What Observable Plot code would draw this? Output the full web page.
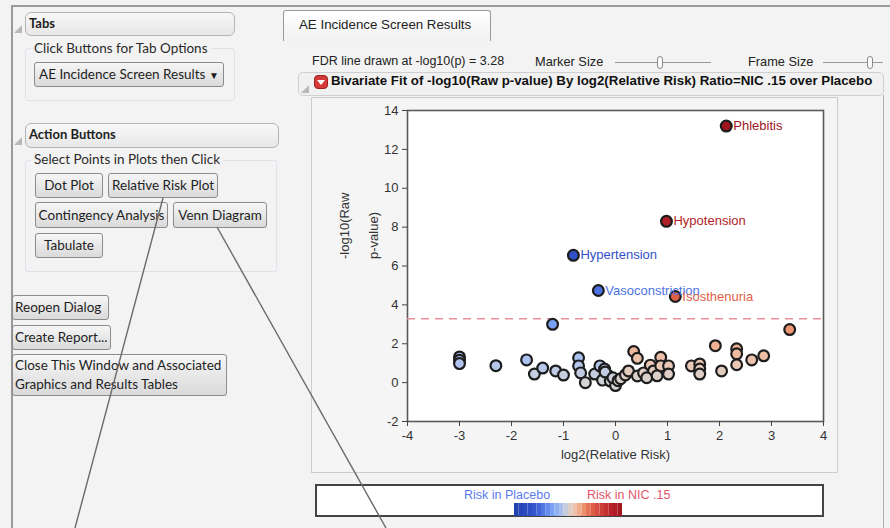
<!DOCTYPE html>
<html>
<head>
<meta charset="utf-8">
<script src="https://cdn.jsdelivr.net/npm/d3@7"></script>
<script src="https://cdn.jsdelivr.net/npm/@observablehq/plot@0.6"></script>
<style>
  html, body { margin: 0; padding: 0; }
  body { width: 890px; height: 528px; background: #f3f3f3; position: relative; overflow: hidden;
         font-family: "Lato", "Open Sans", sans-serif; color: #1e1e1e; }
  .abs { position: absolute; box-sizing: border-box; }
  .hdr { border: 1px solid #b5b5b5; border-radius: 6px; background: linear-gradient(#f8f8f8, #e7e7e7);
         font-weight: bold; font-size: 13px; padding-left: 3px; line-height: 20px; }
  .grp { border: 1px solid #dde3ea; border-radius: 3px; }
  .grpt { background: #f3f3f3; font-size: 13.5px; padding: 0 3px; line-height: 14px; color: #2a2a2a; }
  .btn { border: 1px solid #8c8c8c; border-radius: 3px; background: linear-gradient(#f6f6f6, #dadada);
         font-size: 13.5px; text-align: center; color: #1e1e1e; white-space: nowrap; }
  .tri { width: 0; height: 0; border-left: 8px solid transparent; border-bottom: 8px solid #b9b9b9; }
  .arial { font-family: "Liberation Sans", Arial, sans-serif; }
</style>
</head>
<body>
<!-- left panel frame -->
<div class="abs" style="left:11px;top:5px;width:879px;height:2px;background:#9a9a9a"></div>
<div class="abs" style="left:11px;top:5px;width:2px;height:523px;background:#9a9a9a"></div>
<div class="abs" style="left:883px;top:95px;width:1px;height:433px;background:#b0b0b0"></div>

<div class="abs tri" style="left:14px;top:25px"></div>
<div class="abs hdr" style="left:25px;top:12px;width:210px;height:24px">Tabs</div>
<div class="abs grp" style="left:25px;top:48px;width:210px;height:53px"></div>
<div class="abs grpt" style="left:31px;top:41px">Click Buttons for Tab Options</div>
<div class="abs btn" style="left:34px;top:62px;width:190px;height:25px;line-height:23px;text-align:left;padding-left:4px">AE Incidence Screen Results <span style="font-size:10px">&#9660;</span></div>

<div class="abs tri" style="left:14px;top:137px"></div>
<div class="abs hdr" style="left:25px;top:123px;width:254px;height:25px">Action Buttons</div>
<div class="abs grp" style="left:25px;top:160px;width:252px;height:112px"></div>
<div class="abs grpt" style="left:31px;top:152px">Select Points in Plots then Click</div>
<div class="abs btn" style="left:35px;top:173px;width:68px;height:25px;line-height:23px">Dot Plot</div>
<div class="abs btn" style="left:108px;top:173px;width:110px;height:25px;line-height:23px">Relative Risk Plot</div>
<div class="abs btn" style="left:35px;top:202px;width:133px;height:26px;line-height:24px">Contingency Analysis</div>
<div class="abs btn" style="left:173px;top:202px;width:94px;height:26px;line-height:24px">Venn Diagram</div>
<div class="abs btn" style="left:35px;top:233px;width:68px;height:25px;line-height:23px">Tabulate</div>

<div class="abs btn" style="left:12px;top:295px;width:97px;height:25px;line-height:23px;text-align:left;padding-left:2px">Reopen Dialog</div>
<div class="abs btn" style="left:12px;top:325px;width:99px;height:25px;line-height:23px;text-align:left;padding-left:2px">Create Report...</div>
<div class="abs btn" style="left:12px;top:354px;width:215px;height:42px;line-height:19px;text-align:left;padding-left:2px;padding-top:1px">Close This Window and Associated<br>Graphics and Results Tables</div>

<!-- right side -->
<div class="abs arial" style="left:283px;top:10px;width:208px;height:31px;border:1px solid #9a9a9a;border-bottom:none;border-radius:3px 3px 0 0;background:linear-gradient(#ffffff,#f1f1f1);font-size:13.3px;line-height:28px;padding-left:15px;color:#222">AE Incidence Screen Results</div>

<div class="abs arial" style="left:312px;top:54px;font-size:12.5px;color:#222;white-space:nowrap">FDR line drawn at -log10(p) = 3.28</div>
<div class="abs arial" style="left:535px;top:54px;font-size:12.8px;color:#222">Marker Size</div>
<div class="abs" style="left:615px;top:62px;width:96px;height:1px;background:#9a9a9a"></div>
<div class="abs" style="left:657px;top:56px;width:6px;height:13px;border:1px solid #8a8a8a;border-radius:3px;background:#fafafa"></div>
<div class="abs arial" style="left:748px;top:54px;font-size:12.8px;color:#222">Frame Size</div>
<div class="abs" style="left:823px;top:62px;width:60px;height:1px;background:#9a9a9a"></div>
<div class="abs" style="left:867px;top:56px;width:6px;height:13px;border:1px solid #8a8a8a;border-radius:3px;background:#fafafa"></div>

<div class="abs" style="left:298px;top:72px;width:586px;height:24px;border:1px solid #cfcfcf;border-radius:5px;background:#f1f1f1"></div>
<div class="abs tri" style="left:301px;top:85px"></div>
<div class="abs" style="left:314px;top:75px;width:14px;height:14px;border-radius:4px;background:#d43a3a;border:1px solid #a02020"></div>
<div class="abs" style="left:317px;top:80px;width:0;height:0;border-left:4px solid transparent;border-right:4px solid transparent;border-top:5px solid #fff"></div>
<div class="abs arial" style="left:331px;top:73px;font-size:13.3px;font-weight:bold;color:#111;white-space:nowrap">Bivariate Fit of -log10(Raw p-value) By log2(Relative Risk) Ratio=NIC .15 over Placebo</div>

<div class="abs" style="left:311px;top:97px;width:527px;height:376px;border:1px solid #cdcdcd;background:#f5f5f5"></div>
<div id="chart" class="abs" style="left:311px;top:97px"></div>

<div class="abs arial" style="left:315px;top:484px;width:509px;height:33px;border:2px solid #444;background:#fff"></div>
<div class="abs arial" style="left:464px;top:488px;font-size:12.5px;color:#5a7bea">Risk in Placebo</div>
<div class="abs arial" style="left:587px;top:488px;font-size:12.5px;color:#e0566a">Risk in NIC .15</div>
<div id="legendbar" class="abs" style="left:514px;top:503px;width:108px;height:13px"></div>

<svg class="abs" style="left:0;top:0" width="890" height="528">
  <line x1="163" y1="198" x2="75" y2="528" stroke="#6a6a6a" stroke-width="1.4"/>
  <line x1="217" y1="227" x2="386" y2="528" stroke="#6a6a6a" stroke-width="1.4"/>
</svg>

<script>
// ---- data ----
const termNames = ["Phlebitis","Hypotension","Hypertension","Vasoconstriction","Isosthenuria"];
const termX = [2.13, 0.98, -0.81, -0.33, 1.15];
const termY = [13.2, 8.3, 6.55, 4.74, 4.43];

const otherX = [-3.0,-3.0,-3.0,-2.3,-1.71,-1.56,-1.4,-1.15,-1.0,-0.71,-0.71,-0.67,-0.58,-0.4,-0.3,-0.21,-0.15,-0.25,-0.1,0.0,
                -0.2,-0.05,0.05,0.1,0.19,0.25,0.35,0.42,0.42,0.54,0.67,0.73,0.87,0.87,1.02,1.02,0.6,0.8,1.46,1.62,
                1.62,1.62,1.92,2.04,2.33,2.33,2.33,2.62,2.85,3.35,-1.21];
const otherY = [1.32,1.15,0.98,0.87,1.17,0.44,0.75,0.6,0.39,1.28,0.86,0.5,0.0,0.44,0.86,0.7,0.39,0.13,0.08,-0.15,
                0.55,0.25,0.1,0.2,0.4,0.6,1.6,1.25,0.34,0.5,0.9,0.6,1.3,0.86,0.86,0.44,0.25,0.35,0.86,0.96,
                0.7,0.44,1.9,0.6,1.74,1.48,0.92,1.17,1.38,2.73,3.0];

const fdrLevel = 3.28;
const xTicks = [-4,-3,-2,-1,0,1,2,3,4];
const yTicks = [-2,0,2,4,6,8,10,12,14];
const xLabel = "log2(Relative Risk)";
const yLabel = "-log10(Raw\np-value)";
const rampStops  = [0, 0.17, 0.26, 0.35, 0.45, 0.5, 0.55, 0.6, 0.64, 0.72, 0.9, 1];
const rampColors = ["#1f3fae","#3050c8","#4a70e0","#78a0f4","#b0c4ee","#d4d4d4","#ecc6b2","#f0b090","#ee9470","#e06048","#b82028","#a0141e"];

// ---- build ----
const points = otherX.map((x, i) => ({x, y: otherY[i], name: null}))
  .concat(termNames.map((name, i) => ({x: termX[i], y: termY[i], name})));
const labeled = points.filter(d => d.name);
const signed = d => Math.sign(d.x) * d.y;
const ramp = d3.scaleLinear().domain(rampStops).range(rampColors).interpolate(d3.interpolateRgb).clamp(true);
const interp = t => ramp(t);

const chart = Plot.plot({
  width: 527, height: 376,
  marginLeft: 96, marginRight: 15, marginTop: 13, marginBottom: 52,
  style: {background: "transparent", fontFamily: "'Liberation Sans', Arial, sans-serif", fontSize: "12.5px", color: "#333", overflow: "visible"},
  x: {domain: [-4, 4], ticks: xTicks, tickSize: 5, tickFormat: d => String(d), label: null},
  y: {domain: [-2, 14], ticks: yTicks, tickSize: 5, tickFormat: d => String(d), label: null},
  color: {type: "linear", domain: [-10, 10], interpolate: interp, clamp: true},
  marks: [
    Plot.frame({fill: "white", stroke: "#5a5a5a", strokeWidth: 1.6}),
    Plot.ruleY([fdrLevel], {stroke: "#e8909a", strokeDasharray: "8,6", strokeWidth: 1.5}),
    Plot.dot(points, {x: "x", y: "y", r: 5.4, fill: signed, stroke: "#1d1d1d", strokeWidth: 2.2}),
    Plot.text(labeled, {x: "x", y: "y", text: "name", dx: 7, textAnchor: "start", fill: signed, fontSize: 13}),
    Plot.axisX({ticks: xTicks, tickSize: 5, tickFormat: d => String(d), stroke: "#444", fill: "#333", fontSize: 13}),
    Plot.axisY({ticks: yTicks, tickSize: 5, tickFormat: d => String(d), stroke: "#444", fill: "#333", fontSize: 13}),
    Plot.text([xLabel], {frameAnchor: "bottom", dy: 37, fill: "#333", fontSize: 13}),
    Plot.text([yLabel], {frameAnchor: "left", dx: -53, dy: -7, rotate: -90, lineHeight: 2.2, fill: "#333", fontSize: 13})
  ]
});
document.getElementById("chart").appendChild(chart);

// legend ramp
const lg = Plot.plot({
  width: 108, height: 13, margin: 0,
  x: {domain: [0, 1], axis: null}, y: {axis: null},
  style: {background: "transparent"},
  marks: [Plot.rect(d3.range(24), {x1: d => d / 24, x2: d => (d + 1) / 24, y1: 0, y2: 1, fill: d => interp((d + 0.5) / 24)})]
});
document.getElementById("legendbar").appendChild(lg);
</script>
</body>
</html>
